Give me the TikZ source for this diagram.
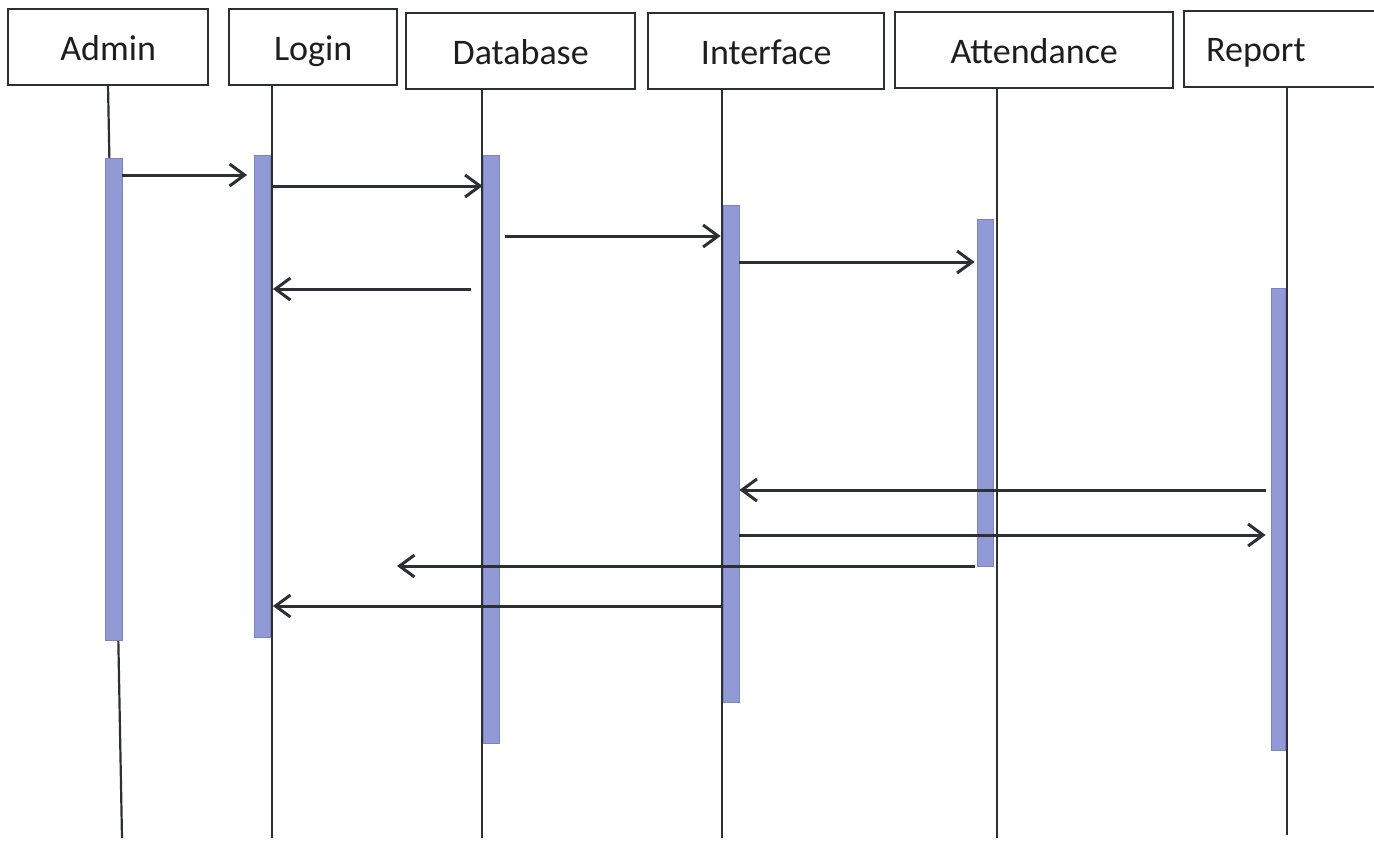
\documentclass[tikz,border=0pt]{standalone}
\usepackage{fontspec}
\setmainfont{Carlito}
\usetikzlibrary{arrows.meta}
\definecolor{barfill}{RGB}{146,154,214}
\definecolor{baredge}{RGB}{122,130,200}
\definecolor{ink}{RGB}{44,48,50}
\definecolor{txt}{RGB}{30,30,30}
\begin{document}
\begin{tikzpicture}[x=1pt,y=-1pt,
  head/.style={draw=ink, line width=2.4pt, rectangle, inner sep=0pt, anchor=north west,
    font=\fontsize{36}{40}\selectfont, text=txt, text height=30pt, text depth=4pt},
  life/.style={draw=ink, line width=2.2pt},
  actbar/.style={rectangle, inner sep=0pt, anchor=north, fill=barfill, draw=baredge, line width=0.8pt, minimum width=16pt},
  msg/.style={draw=ink, line width=3pt, -{Straight Barb[length=15pt,width=22pt,line width=3pt]}}
]
\useasboundingbox (0,0) rectangle (1374,841);
\clip (0,0) rectangle (1374,841);
% heads
\node[head, minimum width=200pt, minimum height=76pt] (admin) at (7,8) {Admin};
\node[head, minimum width=168pt, minimum height=76pt] (login) at (228,8) {Login};
\node[head, minimum width=229pt, minimum height=76pt] (database) at (405,12) {Database};
\node[head, minimum width=236pt, minimum height=76pt] (interface) at (647,12) {Interface};
\node[head, minimum width=278pt, minimum height=76pt] (attendance) at (894,11) {Attendance};
\node[head, minimum width=220pt, minimum height=76pt] (report) at (1183,10) {};
\node[font=\fontsize{36}{40}\selectfont, text=txt, anchor=base west, inner sep=0pt] (reportlbl) at (1206,61) {Report};
% lifeline ends
\coordinate (aend) at (122,838);
\coordinate (lend) at (272,838);
\coordinate (dend) at (482,838);
\coordinate (iend) at (722,838);
\coordinate (tend) at (997,838);
\coordinate (rend) at (1287,835);
\draw[life] (108,84) -- (aend);
\draw[life] (272,84) -- (lend);
\draw[life] (482,88) -- (dend);
\draw[life] (722,88) -- (iend);
\draw[life] (997,87) -- (tend);
\draw[life] (1287,86) -- (rend);
% activation bars
\node[actbar, minimum height=482pt, minimum width=17pt] (abar) at (113.5,158) {};
\node[actbar, minimum height=482pt] (lbar) at (262.5,155) {};
\node[actbar, minimum height=588pt] (dbar) at (491,155) {};
\node[actbar, minimum height=497pt] (ibar) at (731,205) {};
\node[actbar, minimum height=347pt] (tbar) at (985,219) {};
\node[actbar, minimum height=462pt, minimum width=14pt] (rbar) at (1278,288) {};
% messages
\coordinate (free) at (397,566);
\draw[msg] (abar.east |- 0,175) -- ([xshift=-7pt]lbar.west |- 0,175);
\draw[msg] (lbar.east |- 0,186) -- (dbar.west |- 0,186);
\draw[msg] ([xshift=6pt]dbar.east |- 0,236) -- ([xshift=-2pt]ibar.west |- 0,236);
\draw[msg] (ibar.east |- 0,262) -- ([xshift=-2pt]tbar.west |- 0,262);
\draw[msg] ([xshift=-12pt]dbar.west |- 0,289) -- ([xshift=2pt]lbar.east |- 0,289);
\draw[msg] ([xshift=-5pt]rbar.west |- 0,490) -- (ibar.east |- 0,490);
\draw[msg] (ibar.east |- 0,535) -- ([xshift=-5pt]rbar.west |- 0,535);
\draw[msg] ([xshift=-2pt]tbar.west |- 0,566) -- (free);
\draw[msg] ([xshift=-2pt]ibar.west |- 0,606) -- ([xshift=2pt]lbar.east |- 0,606);
\end{tikzpicture}
\end{document}
